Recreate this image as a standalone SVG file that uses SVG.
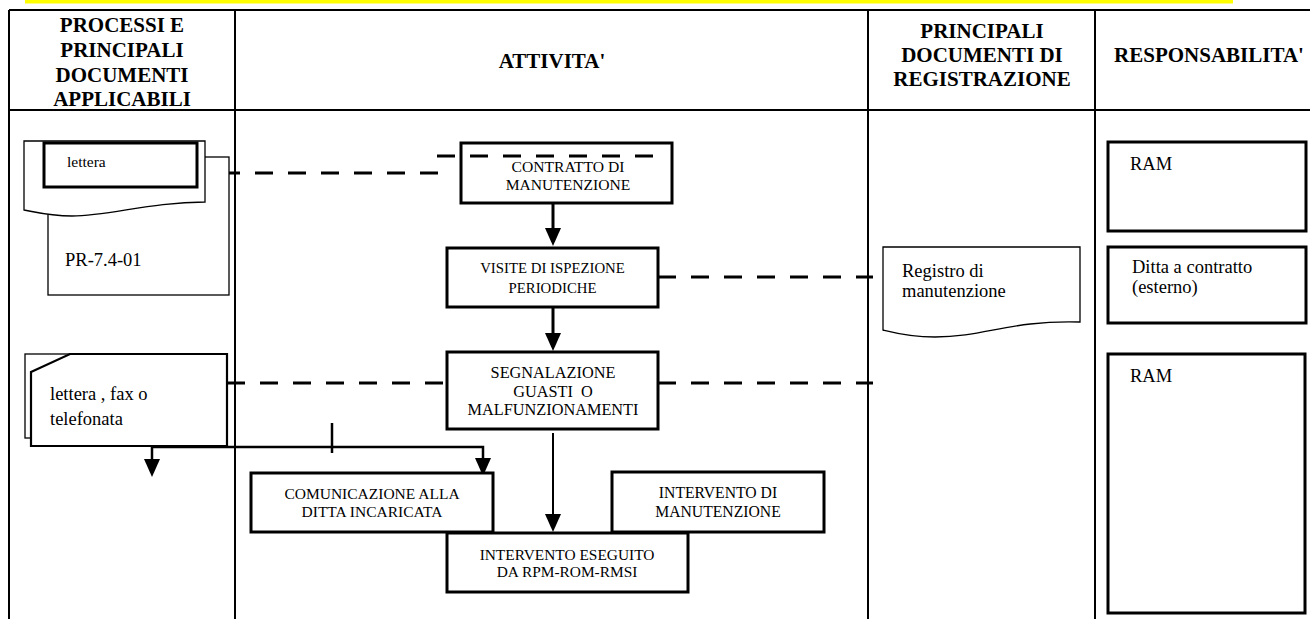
<svg xmlns="http://www.w3.org/2000/svg" width="1310" height="619" viewBox="0 0 1310 619">
<style>
.hd{font-family:"Liberation Serif","Times New Roman",serif;font-weight:bold;font-size:21px;fill:#000;text-anchor:middle}
.t{font-family:"Liberation Serif","Times New Roman",serif;fill:#000}
.c{text-anchor:middle}
.bx{fill:#fff;stroke:#000;stroke-width:3}
.tn{fill:#fff;stroke:#000;stroke-width:1.3}
.grid{stroke:#000;stroke-width:2;fill:none}
.dash{stroke:#000;stroke-width:3;fill:none;stroke-dasharray:18 15}
.arr{stroke:#000;stroke-width:3;fill:none;marker-end:url(#ah)}
</style>
<defs>
<marker id="ah" viewBox="0 0 18 16" refX="14" refY="8" markerWidth="18" markerHeight="16" markerUnits="userSpaceOnUse" orient="auto">
<path d="M0,0 L18,8 L0,16 Z" fill="#000"/>
</marker>
</defs>
<rect x="0" y="0" width="1310" height="619" fill="#fff"/>
<rect x="25" y="0" width="1208" height="3.5" fill="#ffff00"/>

<g id="table">
<path class="grid" d="M9,10 H1310 M9,110 H1310 M9,10 V619 M235,10 V619 M868,10 V619 M1095,10 V619"/>
<text class="hd" x="122" y="32">PROCESSI E</text>
<text class="hd" x="122" y="57">PRINCIPALI</text>
<text class="hd" x="122" y="81.5">DOCUMENTI</text>
<text class="hd" x="122" y="106">APPLICABILI</text>
<text class="hd" x="552" y="68">ATTIVITA'</text>
<text class="hd" x="982" y="38">PRINCIPALI</text>
<text class="hd" x="982" y="62">DOCUMENTI DI</text>
<text class="hd" x="982" y="85.5">REGISTRAZIONE</text>
<text class="hd" x="1209" y="62">RESPONSABILITA'</text>
</g>

<g id="connectors">
<path class="dash" d="M222,173 H440"/>
<path class="dash" d="M437,156 H655"/>
<path class="dash" d="M658,277 H873"/>
<path class="dash" d="M227,383 H447"/>
<path class="dash" d="M658,383 H873"/>
<path class="arr" d="M553,203 V242"/>
<path class="arr" d="M553,307 V347"/>
<path class="arr" style="stroke-width:2" d="M553,433 V528"/>
<path class="arr" style="stroke-width:2.5" d="M332,447 H152 V473"/>
<path class="arr" style="stroke-width:2.5" d="M332,447 H483 V472"/>
<path d="M332,423 V453" stroke="#000" stroke-width="2.5"/>
</g>

<g id="doc-lettera">
<rect class="tn" x="48" y="157" width="181" height="138"/>
<path class="tn" d="M24,141 H205 V202 C150,202 110,216 72,216 C50,216 35,212 24,210 Z"/>
<rect class="bx" x="44" y="143" width="153" height="44"/>
<text class="t" x="67" y="167" font-size="15.5">lettera</text>
<text class="t" x="65" y="266" font-size="18.5">PR-7.4-01</text>
</g>

<g id="doc-fax">
<rect class="tn" x="25" y="354" width="190" height="84"/>
<path fill="#fff" stroke="#000" stroke-width="2.2" d="M31,372 L70,354 H227 V446 H31 Z"/>
<text class="t" x="50" y="400" font-size="18.5">lettera , fax o</text>
<text class="t" x="50" y="425" font-size="18.5">telefonata</text>
</g>

<g id="n-contratto">
<rect class="bx" x="461" y="143" width="211" height="60" style="fill:none"/>
<text class="t c" x="568" y="172" font-size="15.6">CONTRATTO DI</text>
<text class="t c" x="568" y="190" font-size="15.6">MANUTENZIONE</text>
</g>

<g id="n-visite">
<rect class="bx" x="447" y="248" width="211" height="59"/>
<text class="t c" x="552.5" y="273" font-size="14.8">VISITE DI ISPEZIONE</text>
<text class="t c" x="552.5" y="293" font-size="14.8">PERIODICHE</text>
</g>

<g id="n-segnalazione">
<rect class="bx" x="447" y="352" width="211" height="77"/>
<text class="t c" x="553" y="378" font-size="16.3">SEGNALAZIONE</text>
<text class="t c" x="553" y="397" font-size="16.3" xml:space="preserve">GUASTI  O</text>
<text class="t c" x="553" y="415" font-size="16.3">MALFUNZIONAMENTI</text>
</g>

<g id="n-comunicazione">
<rect class="bx" x="251" y="473" width="242" height="59"/>
<text class="t c" x="372" y="499" font-size="15.5">COMUNICAZIONE ALLA</text>
<text class="t c" x="372" y="517" font-size="15.5">DITTA INCARICATA</text>
</g>

<g id="n-intervento">
<rect class="bx" x="612" y="472" width="212" height="60"/>
<text class="t c" x="718" y="498" font-size="15.7">INTERVENTO DI</text>
<text class="t c" x="718" y="517" font-size="15.7">MANUTENZIONE</text>
</g>

<g id="n-eseguito">
<rect class="bx" x="447" y="533" width="241" height="59"/>
<text class="t c" x="567" y="560" font-size="15.4">INTERVENTO ESEGUITO</text>
<text class="t c" x="567" y="577" font-size="15.4">DA RPM-ROM-RMSI</text>
</g>

<g id="doc-registro">
<path class="tn" d="M883,247 H1080 V322 C1010,320 985,337 935,337 C910,337 895,333 883,330 Z"/>
<text class="t" x="902" y="277" font-size="18.5">Registro di</text>
<text class="t" x="902" y="297" font-size="18.5">manutenzione</text>
</g>

<g id="r-ram1">
<rect class="bx" x="1108" y="142" width="198" height="89"/>
<text class="t" x="1130" y="170" font-size="18.5">RAM</text>
</g>

<g id="r-ditta">
<rect class="bx" x="1108" y="247" width="198" height="76"/>
<text class="t" x="1132" y="273" font-size="18.5">Ditta a contratto</text>
<text class="t" x="1132" y="293" font-size="18.5">(esterno)</text>
</g>

<g id="r-ram2">
<rect class="bx" x="1108" y="354" width="197" height="259"/>
<text class="t" x="1130" y="382" font-size="18.5">RAM</text>
</g>
</svg>
